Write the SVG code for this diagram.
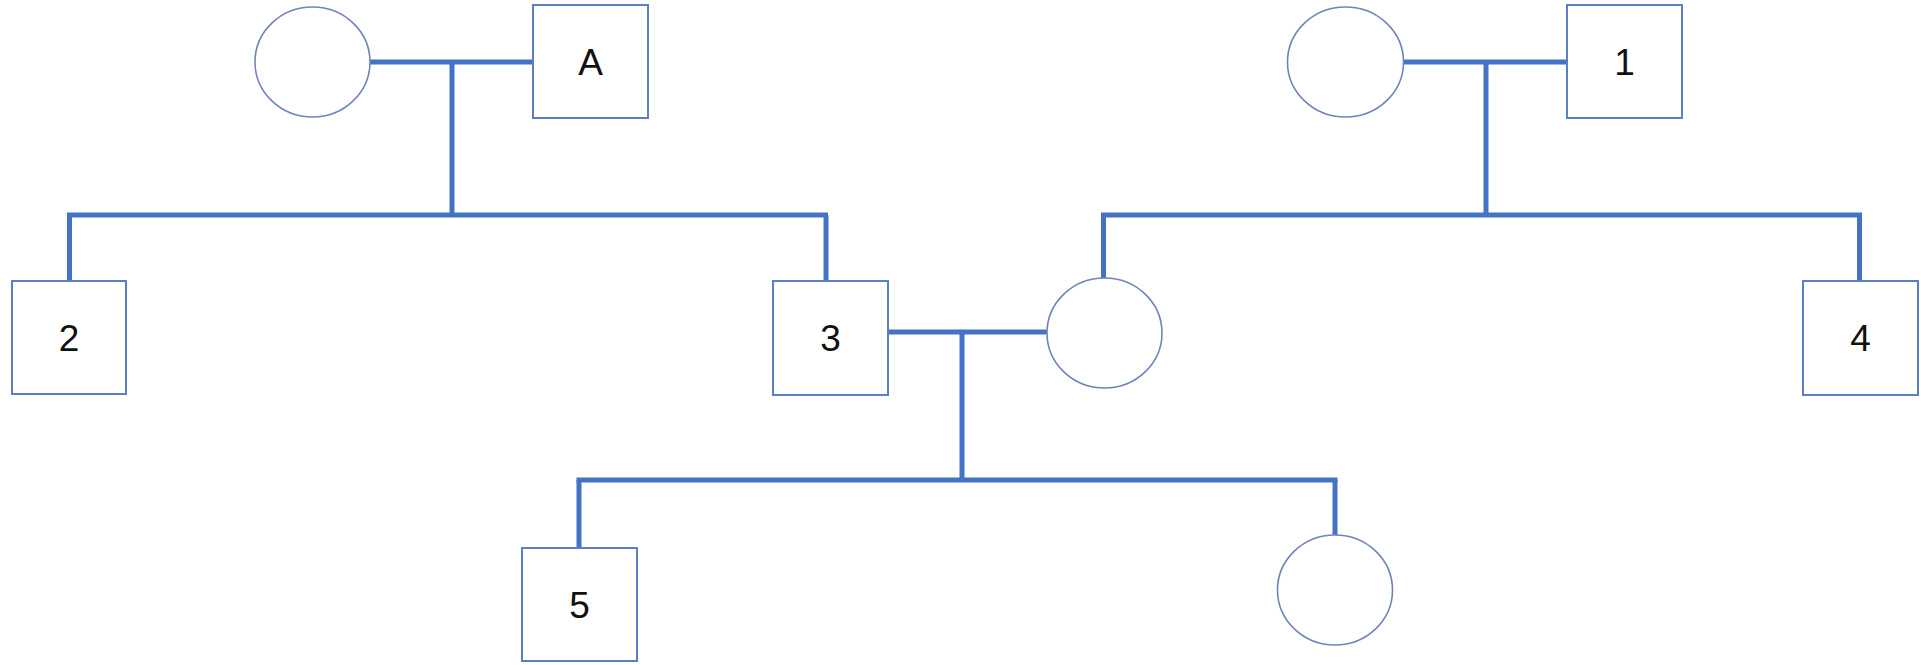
<svg xmlns="http://www.w3.org/2000/svg" width="1921" height="665" viewBox="0 0 1921 665">
<style>
.bg{fill:#ffffff}
.sq{fill:#ffffff;stroke:#5b7fc0;stroke-width:2}
.ci{fill:#ffffff;stroke:#6f84b8;stroke-width:1.6}
.ln{fill:none;stroke:#4472c4;stroke-width:5;stroke-linecap:butt}
.lb{font-family:"Liberation Sans",Arial,sans-serif;font-size:37px;fill:#111111;text-anchor:middle}
</style>
<rect class="bg" x="0" y="0" width="1921" height="665"/>
<g id="connectors">
<path class="ln" d="M370 62 H533"/>
<path class="ln" d="M452 62 V215"/>
<path class="ln" d="M67 215 H828"/>
<path class="ln" d="M69.5 215 V281"/>
<path class="ln" d="M826 215 V281"/>
<path class="ln" d="M1404 62 H1567"/>
<path class="ln" d="M1486 62 V215"/>
<path class="ln" d="M1101 215 H1862"/>
<path class="ln" d="M1103.5 215 V278"/>
<path class="ln" d="M1859.5 215 V281"/>
<path class="ln" d="M888 332 H1047"/>
<path class="ln" d="M962 332 V480"/>
<path class="ln" d="M576.5 480 H1337.5"/>
<path class="ln" d="M579 480 V548"/>
<path class="ln" d="M1335 480 V535"/>
</g>
<g id="node-gp1-female"><ellipse class="ci" cx="312.5" cy="62" rx="57.5" ry="55"/></g>
<g id="node-A"><rect class="sq" x="533" y="5" width="115" height="113"/><text class="lb" x="590.5" y="75">A</text></g>
<g id="node-gp2-female"><ellipse class="ci" cx="1345.5" cy="62" rx="58" ry="55"/></g>
<g id="node-1"><rect class="sq" x="1567" y="5" width="115" height="113"/><text class="lb" x="1624.5" y="75">1</text></g>
<g id="node-2"><rect class="sq" x="12" y="281" width="114" height="113"/><text class="lb" x="69" y="351">2</text></g>
<g id="node-3"><rect class="sq" x="773" y="281" width="115" height="114"/><text class="lb" x="830.5" y="351">3</text></g>
<g id="node-mother"><ellipse class="ci" cx="1104.5" cy="333" rx="57.5" ry="55"/></g>
<g id="node-4"><rect class="sq" x="1803" y="281" width="115" height="114"/><text class="lb" x="1860.5" y="351">4</text></g>
<g id="node-5"><rect class="sq" x="522" y="548" width="115" height="113"/><text class="lb" x="579.5" y="618">5</text></g>
<g id="node-daughter"><ellipse class="ci" cx="1335" cy="590" rx="57.5" ry="55"/></g>
</svg>
